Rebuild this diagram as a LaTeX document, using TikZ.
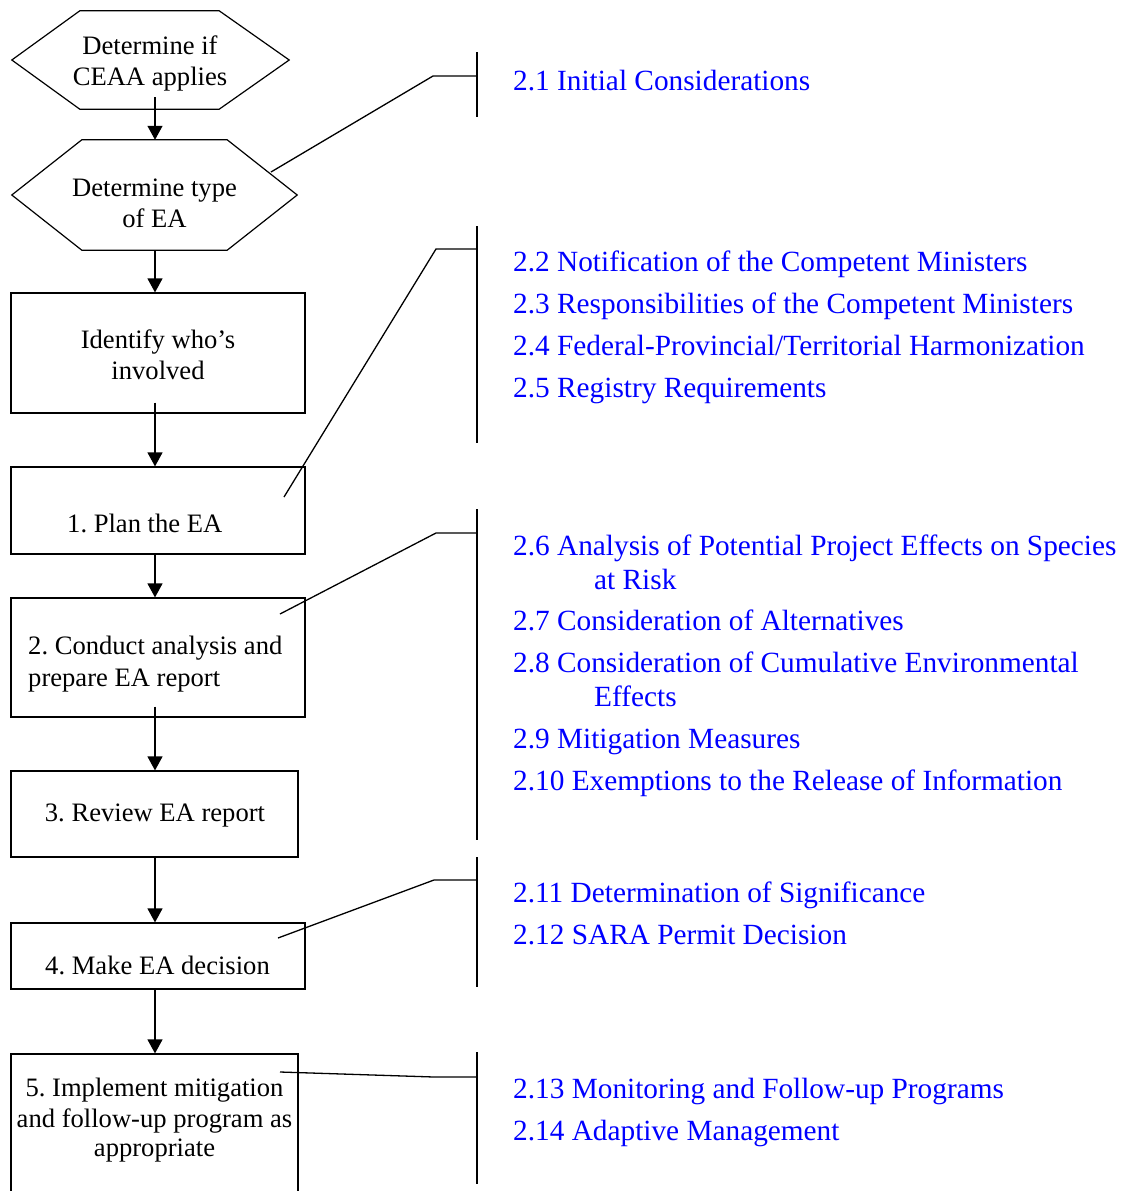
\documentclass[tikz,border=0pt]{standalone}
\usepackage{fontspec}
\setmainfont{Liberation Serif}
\usetikzlibrary{arrows.meta,calc}
\definecolor{linkblue}{RGB}{0,0,255}
\frenchspacing
\begin{document}
\frenchspacing
\begin{tikzpicture}[x=1pt,y=-1pt,
  box/.style={draw, line width=1.2pt, inner sep=0pt},
  frame/.style={inner sep=0pt},
  hexline/.style={draw, line width=1.2pt, line join=miter},
  lbl/.style={font=\fontsize{26.6}{31}\selectfont, anchor=base, inner sep=0pt, yshift=-1pt},
  lblw/.style={lbl, anchor=base west},
  item/.style={font=\fontsize{29.3}{34}\selectfont, text=linkblue, anchor=base west, inner sep=0pt, yshift=-1pt},
  flow/.style={line width=1.3pt, -{Triangle[width=15pt,length=14pt]}},
  leader/.style={line width=1.3pt},
  bar/.style={line width=2pt}]

\useasboundingbox (0,0) rectangle (1135,1191);
\clip (0,0) rectangle (1135,1191);
\fill[white] (0,0) rectangle (1135,1191);

% ---------- hexagons ----------
\node[frame, minimum width=277pt, minimum height=98pt] (h1) at (150.5,60) {};
\draw[hexline] (h1.west) -- ([xshift=68pt]h1.north west) -- ([xshift=-70pt]h1.north east)
  -- (h1.east) -- ([xshift=-70pt]h1.south east) -- ([xshift=68pt]h1.south west) -- cycle;
\node[lbl] (t1a) at (150,53) {Determine if};
\node[lbl] (t1b) at (150,84) {CEAA applies};

\node[frame, minimum width=285pt, minimum height=110pt] (h2) at (154.5,195) {};
\draw[hexline] (h2.west) -- ([xshift=70pt]h2.north west) -- ([xshift=-70pt]h2.north east)
  -- (h2.east) -- ([xshift=-70pt]h2.south east) -- ([xshift=70pt]h2.south west) -- cycle;
\node[lbl] (t2a) at (154.5,195) {Determine type};
\node[lbl] (t2b) at (154.5,226) {of EA};

% ---------- boxes ----------
\node[box, minimum width=294pt, minimum height=120pt] (b1) at (158,353) {};
\node[lbl] (t3a) at (158,347) {Identify who’s};
\node[lbl] (t3b) at (158,378) {involved};

\node[box, minimum width=294pt, minimum height=87pt] (b2) at (158,510.5) {};
\node[lblw] (t4) at (67,531) {1. Plan the EA};

\node[box, minimum width=294pt, minimum height=119pt] (b3) at (158,657.5) {};
\node[lblw] (t5a) at (28,653) {2. Conduct analysis and};
\node[lblw] (t5b) at (28,685) {prepare EA report};

\node[box, minimum width=287pt, minimum height=86pt] (b4) at (154.5,814) {};
\node[lbl] (t6) at (155,820) {3. Review EA report};

\node[box, minimum width=294pt, minimum height=66pt] (b5) at (158,956) {};
\node[lbl] (t7) at (157.5,973) {4. Make EA decision};

\node[box, minimum width=287pt, minimum height=146pt] (b6) at (154.5,1127) {};
\node[lbl] (t8a) at (154.5,1095) {5. Implement mitigation};
\node[lbl] (t8b) at (154.5,1126) {and follow-up program as};
\node[lbl] (t8c) at (154.5,1155) {appropriate};

% ---------- flow arrows ----------
\draw[flow] ([xshift=4.5pt,yshift=12pt]h1.south) -- ([xshift=0.5pt]h2.north);
\draw[flow] ([xshift=0.5pt]h2.south) -- ([xshift=-3pt]b1.north);
\draw[flow] ([xshift=-3pt,yshift=11pt]b1.south) -- ([xshift=-3pt]b2.north);
\draw[flow] ([xshift=-3pt]b2.south) -- ([xshift=-3pt]b3.north);
\draw[flow] ([xshift=-3pt,yshift=11pt]b3.south) -- ([xshift=0.5pt]b4.north);
\draw[flow] ([xshift=0.5pt]b4.south) -- ([xshift=-3pt]b5.north);
\draw[flow] ([xshift=-3pt]b5.south) -- ([xshift=0.5pt]b6.north);

% ---------- bars and leaders ----------
\coordinate (bar1t) at (477,52);   \coordinate (bar1b) at (477,117);
\coordinate (bar2t) at (477,226);  \coordinate (bar2b) at (477,443);
\coordinate (bar3t) at (477,509);  \coordinate (bar3b) at (477,840);
\coordinate (bar4t) at (477,857);  \coordinate (bar4b) at (477,987);
\coordinate (bar5t) at (477,1052); \coordinate (bar5b) at (477,1184);

\coordinate (s1) at (271,172);  \coordinate (k1) at (433,76);
\coordinate (s2) at (284,497);  \coordinate (k2) at (436,249);
\coordinate (s3) at (280,614);  \coordinate (k3) at (436,533);
\coordinate (s4) at (278,938);  \coordinate (k4) at (434,880);
\coordinate (s5) at (280,1072); \coordinate (k5) at (434,1077);

\foreach \i in {1,...,5}{
  \draw[bar] (bar\i t) -- (bar\i b);
  \draw[leader] (s\i) -- (k\i) -- (k\i -| bar\i t);
}

% ---------- section references ----------
\node[item] (r1)  at (513,89)   {2.1 Initial Considerations};
\node[item] (r2)  at (513,270)  {2.2 Notification of the Competent Ministers};
\node[item] (r3)  at (513,312)  {2.3 Responsibilities of the Competent Ministers};
\node[item] (r4)  at (513,354)  {2.4 Federal-Provincial/Territorial Harmonization};
\node[item] (r5)  at (513,396)  {2.5 Registry Requirements};
\node[item] (r6a) at (513,554)  {2.6 Analysis of Potential Project Effects on Species};
\node[item] (r6b) at (594,588)  {at Risk};
\node[item] (r7)  at (513,629)  {2.7 Consideration of Alternatives};
\node[item] (r8a) at (513,671)  {2.8 Consideration of Cumulative Environmental};
\node[item] (r8b) at (594,705)  {Effects};
\node[item] (r9)  at (513,747)  {2.9 Mitigation Measures};
\node[item] (r10) at (513,789)  {2.10 Exemptions to the Release of Information};
\node[item] (r11) at (513,901)  {2.11 Determination of Significance};
\node[item] (r12) at (513,943)  {2.12 SARA Permit Decision};
\node[item] (r13) at (513,1097) {2.13 Monitoring and Follow-up Programs};
\node[item] (r14) at (513,1139) {2.14 Adaptive Management};
\end{tikzpicture}
\end{document}
